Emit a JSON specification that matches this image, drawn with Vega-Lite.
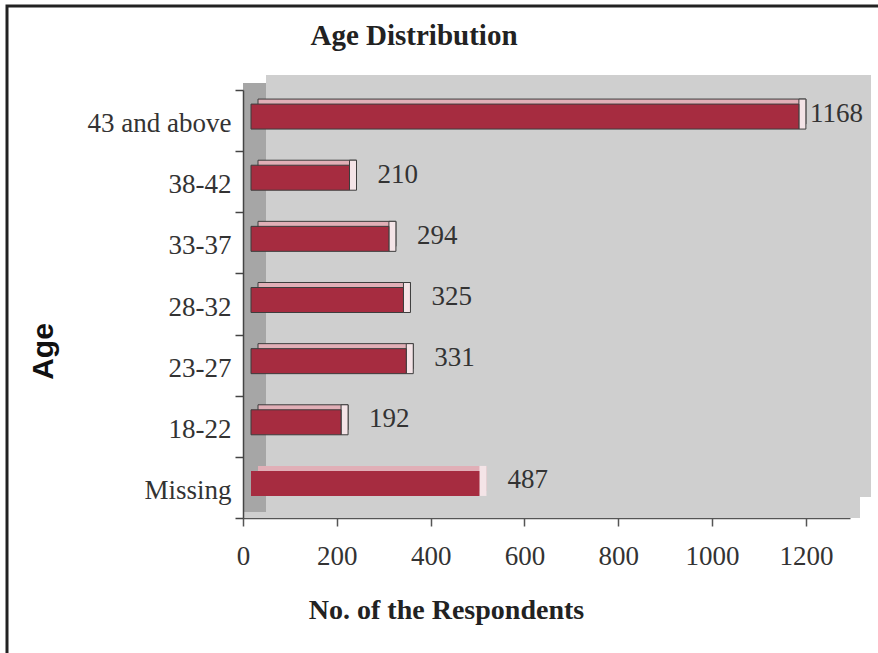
{
  "$schema": "https://vega.github.io/schema/vega-lite/v6.json",
  "width": 880,
  "height": 660,
  "autosize": {"type": "none"},
  "padding": {"left": 7, "top": 6, "right": 0, "bottom": 0},
  "background": "white",
  "config": {
    "view": {"stroke": "#222222", "strokeWidth": 3, "fill": "white"}
  },
  "title": {
    "text": "Age Distribution",
    "font": "Liberation Serif",
    "fontSize": 29,
    "fontWeight": "bold",
    "color": "#222222",
    "anchor": "middle",
    "frame": "group",
    "baseline": "alphabetic",
    "offset": 0,
    "dx": -33,
    "dy": 82
  },
  "data": {
    "values": [
      {"age": "43 and above", "n": 1168},
      {"age": "38-42", "n": 210},
      {"age": "33-37", "n": 294},
      {"age": "28-32", "n": 325},
      {"age": "23-27", "n": 331},
      {"age": "18-22", "n": 192},
      {"age": "Missing", "n": 487}
    ]
  },
  "layer": [
    {
      "data": {"values": [{}]},
      "mark": {"type": "rect", "color": "#CFCFCF", "xOffset": 23, "x2Offset": 21, "yOffset": -15, "y2Offset": -21},
      "encoding": {
        "x": {"datum": 0, "type": "quantitative"},
        "x2": {"datum": 1294},
        "y": {"datum": "43 and above", "type": "nominal", "bandPosition": 0},
        "y2": {"datum": "Missing", "bandPosition": 1}
      }
    },
    {
      "data": {"values": [{}]},
      "mark": {"type": "rect", "color": "#CFCFCF", "xOffset": 0, "x2Offset": 10, "yOffset": -21, "y2Offset": 0},
      "encoding": {
        "x": {"datum": 0, "type": "quantitative"},
        "x2": {"datum": 1294},
        "y": {"datum": "Missing", "type": "nominal", "bandPosition": 1},
        "y2": {"datum": "Missing", "bandPosition": 1}
      }
    },
    {
      "data": {"values": [{}]},
      "mark": {"type": "rect", "color": "#A6A6A6", "xOffset": 0, "x2Offset": 23, "yOffset": -7, "y2Offset": -6},
      "encoding": {
        "x": {"datum": 0, "type": "quantitative"},
        "x2": {"datum": 0},
        "y": {"datum": "43 and above", "type": "nominal", "bandPosition": 0},
        "y2": {"datum": "Missing", "bandPosition": 1}
      }
    },
    {
      "mark": {"type": "bar", "color": "#E1AFB7", "size": 25, "yOffset": -9, "xOffset": 15, "x2Offset": 15, "stroke": "#3d3d3d", "strokeWidth": 1},
      "encoding": {
        "y": {
          "field": "age",
          "type": "nominal",
          "sort": null,
          "scale": {
            "domain": ["43 and above", "38-42", "33-37", "28-32", "23-27", "18-22", "Missing"],
            "range": [84, 512],
            "paddingInner": 0,
            "paddingOuter": 0
          },
          "axis": {
            "orient": "left",
            "offset": -236,
            "tickBand": "extent",
            "domainColor": "#444444",
            "domainWidth": 1.5,
            "tickColor": "#444444",
            "tickWidth": 1.5,
            "tickSize": 8,
            "labelFont": "Liberation Serif",
            "labelFontSize": 27,
            "labelColor": "#333333",
            "labelPadding": 4,
            "labelOffset": 3,
            "title": "Age",
            "titleFont": "Liberation Sans",
            "titleFontSize": 30,
            "titleFontWeight": "bold",
            "titleColor": "#111111",
            "titleX": -200,
            "titleY": 345,
            "titleAngle": -90,
            "titleAlign": "center",
            "titleBaseline": "middle"
          }
        },
        "x": {
          "field": "n",
          "type": "quantitative",
          "scale": {"domain": [0, 1294], "range": [236, 843], "nice": false, "zero": true},
          "axis": {
            "orient": "bottom",
            "offset": -148,
            "values": [0, 200, 400, 600, 800, 1000, 1200],
            "format": "d",
            "grid": false,
            "domainColor": "#555555",
            "domainWidth": 1.5,
            "tickColor": "#555555",
            "tickWidth": 1.5,
            "tickSize": 8,
            "labelFont": "Liberation Serif",
            "labelFontSize": 27,
            "labelColor": "#333333",
            "labelPadding": 17,
            "labelFlush": false,
            "labelOverlap": false,
            "title": "No. of the Respondents",
            "titleFont": "Liberation Serif",
            "titleFontSize": 28,
            "titleFontWeight": "bold",
            "titleColor": "#222222",
            "titleX": 439,
            "titleY": 100,
            "titleAlign": "center",
            "titleBaseline": "alphabetic"
          }
        },
        "x2": {"datum": 0},
        "strokeOpacity": {"condition": {"test": "datum.age === 'Missing'", "value": 0}, "value": 1}
      }
    },
    {
      "mark": {"type": "bar", "color": "#F4E4E7", "size": 30, "yOffset": -6.5, "xOffset": 15, "x2Offset": 8, "stroke": "#3d3d3d", "strokeWidth": 1},
      "encoding": {
        "y": {"field": "age", "type": "nominal", "sort": null},
        "x": {"field": "n", "type": "quantitative"},
        "x2": {"field": "n"},
        "strokeOpacity": {"condition": {"test": "datum.age === 'Missing'", "value": 0}, "value": 1}
      }
    },
    {
      "mark": {"type": "bar", "color": "#A62C40", "size": 25, "yOffset": -4, "xOffset": 8, "x2Offset": 8, "stroke": "#3d3d3d", "strokeWidth": 1},
      "encoding": {
        "y": {"field": "age", "type": "nominal", "sort": null},
        "x": {"field": "n", "type": "quantitative"},
        "x2": {"datum": 0},
        "strokeOpacity": {"condition": {"test": "datum.age === 'Missing'", "value": 0}, "value": 1}
      }
    },
    {
      "transform": [{"filter": "datum.n < 1000"}],
      "mark": {"type": "text", "align": "left", "baseline": "middle", "dx": 36, "dy": -7, "font": "Liberation Serif", "fontSize": 27, "color": "#333333"},
      "encoding": {
        "y": {"field": "age", "type": "nominal", "sort": null},
        "x": {"field": "n", "type": "quantitative"},
        "text": {"field": "n", "type": "quantitative"}
      }
    },
    {
      "transform": [{"filter": "datum.n >= 1000"}],
      "mark": {"type": "text", "align": "left", "baseline": "middle", "dx": 19, "dy": -7, "font": "Liberation Serif", "fontSize": 27, "color": "#333333"},
      "encoding": {
        "y": {"field": "age", "type": "nominal", "sort": null},
        "x": {"field": "n", "type": "quantitative"},
        "text": {"field": "n", "type": "quantitative"}
      }
    }
  ]
}
